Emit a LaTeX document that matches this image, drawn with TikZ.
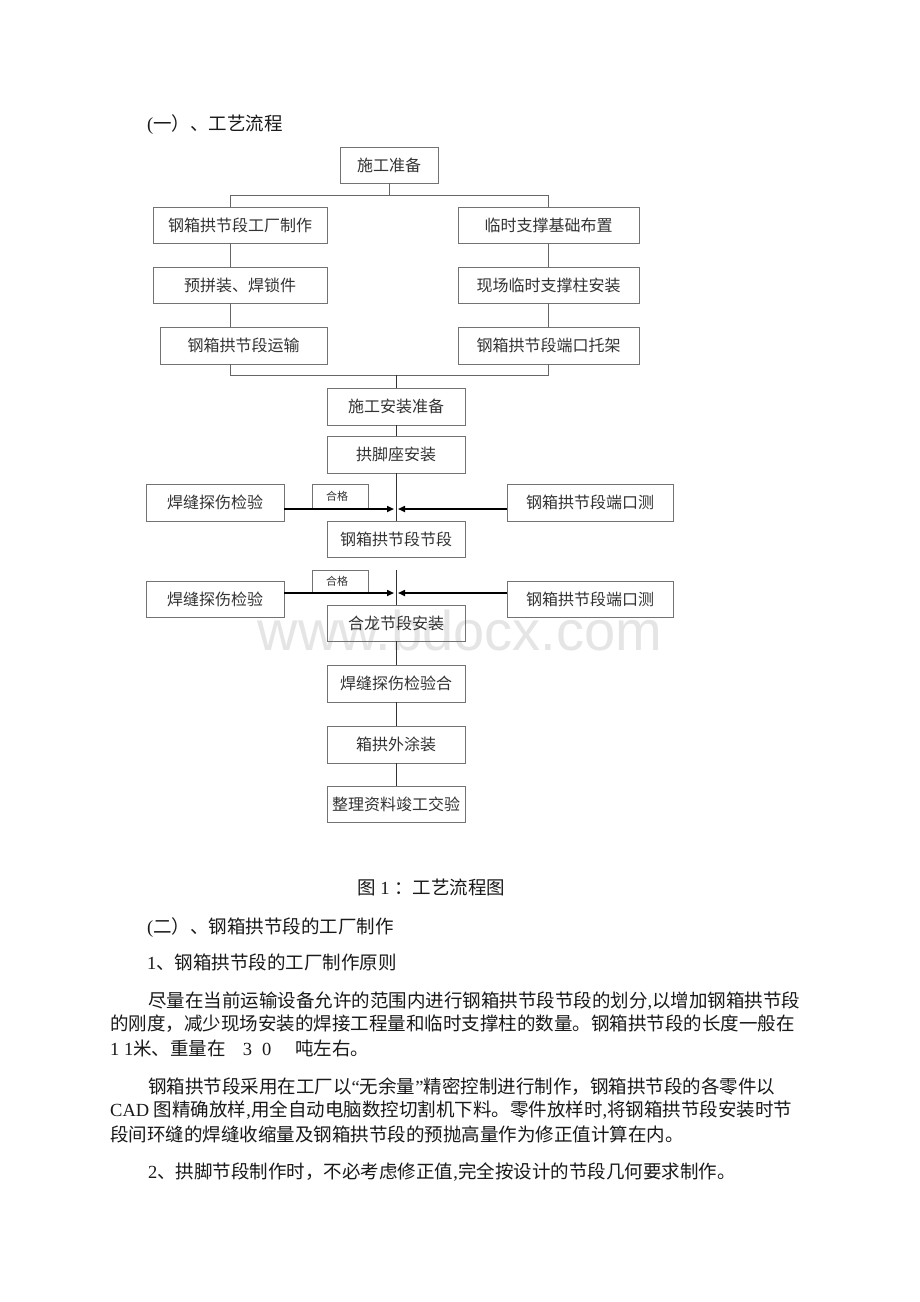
\documentclass[tikz,border=0pt]{standalone}
\usepackage{fontspec}
\setmainfont{Noto Sans CJK SC}
\newfontfamily\lat{Liberation Serif}
\newfontfamily\wmfont{Liberation Sans}
\usetikzlibrary{arrows.meta}
\newcommand\bodyfs{\fontsize{18.5pt}{22pt}\selectfont}
\newcommand\boxfs{\fontsize{16pt}{19pt}\selectfont}
\newcommand\qfs{\fontsize{11pt}{13pt}\selectfont}
\begin{document}
\begin{tikzpicture}[x=1pt,y=-1pt,
  fbox/.style={draw=black!55, line width=0.8pt, inner sep=0pt, font=\boxfs, text=black!80, minimum height=36pt},
  conn/.style={draw=black!60, line width=0.8pt},
  vline/.style={draw=black!80, line width=0.8pt},
  arr/.style={draw=black, line width=1.6pt, -{Triangle[length=7pt,width=6pt]}},
  txt/.style={anchor=west, inner sep=0pt, font=\bodyfs, text=black!90},
  qframe/.style={draw=black!55, line width=0.8pt, inner sep=0pt},
  qtext/.style={inner sep=0pt, font=\qfs, text=black!80},
  wm/.style={inner sep=0pt, font=\wmfont\fontsize{56pt}{60pt}\selectfont, text=black!10}]
\useasboundingbox (0,0) rectangle (920,1302);
\fill[white] (0,0) rectangle (920,1302);

% watermark
\node[wm] (wmark) at (460,630) {www.bdocx.com};

% title
\node[txt] (t1) at (147,125) {{\lat (}一）、工艺流程};

% top part
\node[fbox, minimum width=98pt] (top) at (389,165) {施工准备};
\node[fbox, minimum width=174pt] (L1) at (240,225) {钢箱拱节段工厂制作};
\node[fbox, minimum width=174pt] (L2) at (240,285) {预拼装、焊锁件};
\node[fbox, minimum width=167pt, minimum height=37pt] (L3) at (243.5,345.5) {钢箱拱节段运输};
\node[fbox, minimum width=181pt] (R1) at (548.5,225) {临时支撑基础布置};
\node[fbox, minimum width=181pt] (R2) at (548.5,285) {现场临时支撑柱安装};
\node[fbox, minimum width=181pt, minimum height=37pt] (R3) at (548.5,345.5) {钢箱拱节段端口托架};

\coordinate (jt) at (389,195);
\coordinate (jl) at (230,195);
\coordinate (jr) at (548.5,195);
\coordinate (bl) at (230,375);
\coordinate (br) at (548.5,375);
\coordinate (bm) at (396,375);

\draw[conn] (top.south) -- (jt);
\draw[conn] (jl) -- (jr);
\draw[conn] (jl) -- (jl |- L1.north);
\draw[conn] (jl |- L1.south) -- (jl |- L2.north);
\draw[conn] (jl |- L2.south) -- (jl |- L3.north);
\draw[conn] (jl |- L3.south) -- (bl);
\draw[conn] (jr) -- (R1.north);
\draw[conn] (R1.south) -- (R2.north);
\draw[conn] (R2.south) -- (R3.north);
\draw[conn] (R3.south) -- (br);
\draw[conn] (bl) -- (br);

% middle column
\node[fbox, minimum width=138pt, minimum height=37pt] (M1) at (396,406.5) {施工安装准备};
\node[fbox, minimum width=138pt, minimum height=37pt] (M2) at (396,454.5) {拱脚座安装};
\node[fbox, minimum width=138pt] (M3) at (396,539) {钢箱拱节段节段};
\node[fbox, minimum width=138pt] (M4) at (396,623) {合龙节段安装};
\node[fbox, minimum width=138pt, minimum height=37pt] (M5) at (396,683.5) {焊缝探伤检验合};
\node[fbox, minimum width=138pt, minimum height=37pt] (M6) at (396,744.5) {箱拱外涂装};
\node[fbox, minimum width=138pt] (M7) at (396,804) {整理资料竣工交验};

\draw[vline] (bm) -- (M1.north);
\draw[vline] (M1.south) -- (M2.north);
\draw[vline] (M2.south) -- (M3.north);
\coordinate (v2) at (396,570);
\draw[vline] (v2) -- (M4.north);
\draw[vline] (M4.south) -- (M5.north);
\draw[vline] (M5.south) -- (M6.north);
\draw[vline] (M6.south) -- (M7.north);

% side boxes row 1
\node[fbox, minimum width=138pt, minimum height=37pt] (WL1) at (215,502.5) {焊缝探伤检验};
\node[fbox, minimum width=166pt, minimum height=37pt] (WR1) at (590,502.5) {钢箱拱节段端口测};
\node[qframe, minimum width=56pt, minimum height=25pt] (Q1) at (340,496.5) {};
\node[qtext] (Q1t) at (337,496) {合格};
\coordinate (a1) at (396,509);
\draw[arr] (a1 -| WL1.east) -- ([xshift=-2pt]a1);
\draw[arr] (a1 -| WR1.west) -- ([xshift=2pt]a1);

% side boxes row 2
\node[fbox, minimum width=138pt] (WL2) at (215,599) {焊缝探伤检验};
\node[fbox, minimum width=166pt] (WR2) at (590,599) {钢箱拱节段端口测};
\node[qframe, minimum width=56pt, minimum height=23pt] (Q2) at (340,581.5) {};
\node[qtext] (Q2t) at (337,581) {合格};
\coordinate (a2) at (396,593);
\draw[arr] (a2 -| WL2.east) -- ([xshift=-2pt]a2);
\draw[arr] (a2 -| WR2.west) -- ([xshift=2pt]a2);

% caption and body text
\node[txt] (cap) at (357,887) {图{\lat\ 1\ }：工艺流程图};
\node[txt] (h2) at (147,928) {{\lat (}二）、钢箱拱节段的工厂制作};
\node[txt] (h3) at (147,962) {{\lat 1}、钢箱拱节段的工厂制作原则};
\node[txt] (p1a) at (148,1001) {尽量在当前运输设备允许的范围内进行钢箱拱节段节段的划分{\lat ,}以增加钢箱拱节段};
\node[txt] (p1b) at (110,1024) {的刚度，减少现场安装的焊接工程量和临时支撑柱的数量。钢箱拱节段的长度一般在};
\node[txt] (p1c) at (110,1048) {{\lat 1 1}米、重量在\hspace{17pt}{\lat 3}\hspace{10pt}{\lat 0}\hspace{24pt}吨左右。};
\node[txt] (p2a) at (148,1087) {钢箱拱节段采用在工厂以{\lat “}无余量{\lat ”}精密控制进行制作，钢箱拱节段的各零件以};
\node[txt] (p2b) at (110,1110) {{\lat CAD }图精确放样{\lat ,}用全自动电脑数控切割机下料。零件放样时{\lat ,}将钢箱拱节段安装时节};
\node[txt] (p2c) at (110,1134) {段间环缝的焊缝收缩量及钢箱拱节段的预抛高量作为修正值计算在内。};
\node[txt] (p3) at (148,1172) {{\lat 2}、拱脚节段制作时，不必考虑修正值{\lat ,}完全按设计的节段几何要求制作。};
\end{tikzpicture}
\end{document}
